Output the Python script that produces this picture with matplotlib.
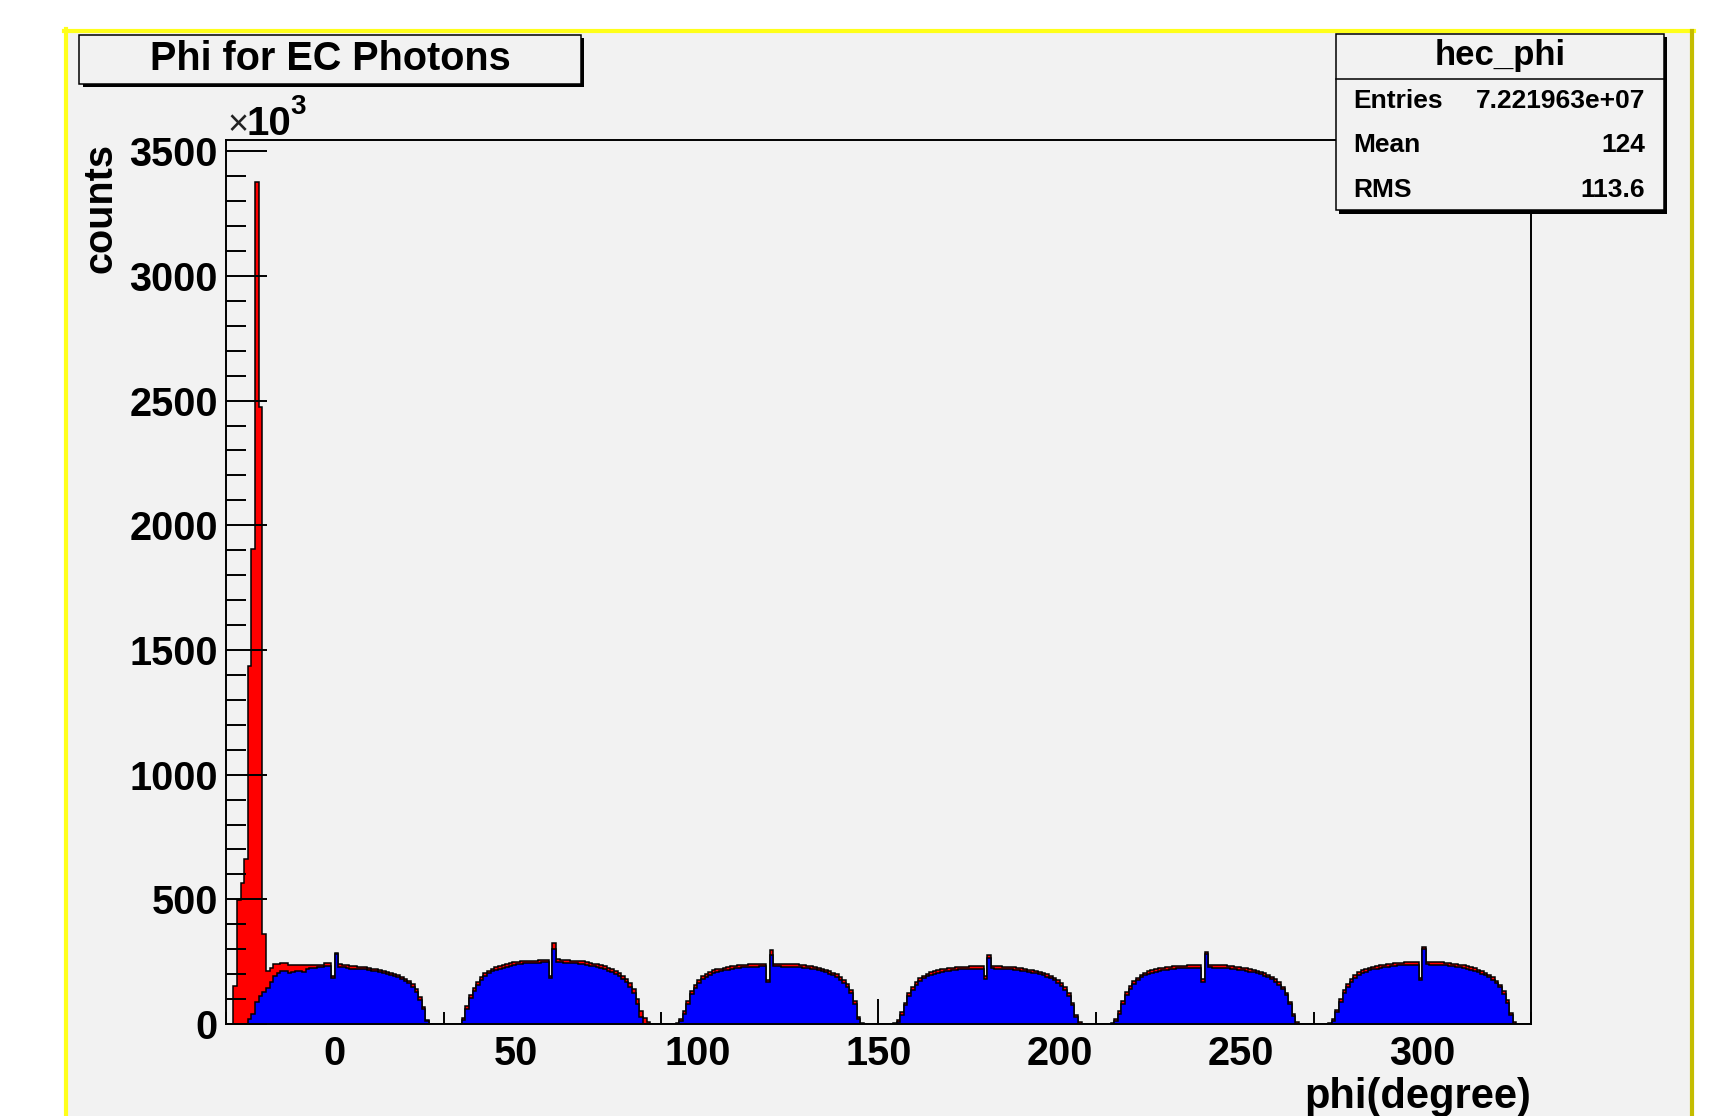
import numpy as np
import matplotlib
matplotlib.use("Agg")
import matplotlib.pyplot as plt
from matplotlib.patches import Rectangle
from matplotlib.lines import Line2D
from matplotlib.ticker import MultipleLocator, FixedLocator

plt.rcParams["font.family"] = ["Liberation Sans", "DejaVu Sans"]
plt.rcParams["font.weight"] = "bold"

# 1-degree bins from -30 to 330, counts in units of 10^3
PHI_LO, PHI_HI = -30, 330

# all EC photons (red)
RED = [
    0, 0, 152, 499, 566, 660, 1437, 1903, 3375, 2473,        # -30
    359, 212, 225, 240, 240, 244, 244, 238, 238, 238,        # -20
    238, 238, 238, 238, 238, 237, 238, 243, 243, 192,        # -10
    286, 239, 238, 236, 233, 231, 230, 229, 228, 225,        # 0
    221, 219, 217, 213, 210, 206, 201, 197, 189, 180,        # 10
    173, 160, 139, 109, 69, 18, 0, 0, 0, 0,                  # 20
    0, 0, 0, 0, 0, 25, 72, 118, 145, 169,                    # 30
    189, 203, 213, 222, 228, 233, 237, 241, 244, 247,        # 40
    250, 252, 253, 254, 253, 254, 255, 256, 257, 193,        # 50
    324, 259, 258, 256, 255, 254, 253, 252, 251, 248,        # 60
    245, 242, 239, 235, 231, 225, 219, 211, 204, 193,        # 70
    181, 163, 139, 100, 52, 24, 8, 0, 0, 0,                  # 80
    0, 0, 0, 0, 6, 22, 52, 93, 131, 157,                     # 90
    176, 191, 201, 209, 215, 219, 222, 225, 228, 231,        # 100
    234, 236, 237, 238, 239, 239, 240, 241, 240, 178,        # 110
    297, 241, 241, 240, 240, 239, 239, 239, 238, 236,        # 120
    234, 232, 229, 226, 222, 218, 212, 206, 199, 189,        # 130
    177, 161, 137, 92, 30, 6, 0, 0, 0, 0,                    # 140
    0, 0, 0, 0, 4, 18, 48, 86, 123, 149,                     # 150
    169, 183, 193, 201, 207, 212, 216, 219, 222, 224,        # 160
    226, 227, 229, 230, 230, 231, 232, 232, 231, 191,        # 170
    275, 232, 231, 231, 230, 230, 229, 227, 225, 224,        # 180
    221, 218, 216, 213, 209, 205, 200, 194, 186, 176,        # 190
    164, 147, 123, 86, 38, 8, 0, 0, 0, 0,                    # 200
    0, 0, 0, 0, 4, 20, 52, 91, 127, 153,                     # 210
    172, 186, 197, 205, 211, 216, 220, 223, 226, 228,        # 220
    230, 232, 233, 234, 234, 235, 235, 236, 236, 179,        # 230
    289, 237, 236, 236, 235, 235, 234, 232, 230, 228,        # 240
    226, 223, 220, 217, 213, 209, 204, 198, 190, 180,        # 250
    167, 150, 126, 90, 40, 8, 0, 0, 0, 0,                    # 260
    0, 0, 0, 0, 4, 22, 58, 99, 135, 161,                     # 270
    181, 196, 207, 215, 221, 226, 230, 233, 236, 238,        # 280
    240, 242, 244, 245, 246, 247, 247, 248, 248, 186,        # 290
    309, 249, 248, 248, 247, 247, 246, 244, 242, 240,        # 300
    238, 235, 231, 227, 223, 218, 212, 205, 197, 187,        # 310
    174, 157, 133, 96, 44, 10, 0, 0, 0, 0,                   # 320
]

# photons inside the sector acceptance (blue)
BLUE = [
    0, 0, 0, 0, 0, 0, 20, 42, 90, 112,                       # -30
    128, 146, 170, 192, 204, 212, 214, 206, 210, 211,        # -20
    212, 210, 222, 226, 226, 227, 228, 232, 234, 185,        # -10
    279, 230, 229, 224, 222, 222, 221, 220, 219, 215,        # 0
    212, 211, 207, 205, 201, 198, 193, 188, 180, 172,        # 10
    163, 150, 128, 98, 60, 12, 0, 0, 0, 0,                   # 20
    0, 0, 0, 0, 0, 15, 60, 105, 132, 158,                    # 30
    178, 192, 203, 212, 217, 222, 226, 230, 234, 237,        # 40
    240, 242, 243, 244, 244, 244, 245, 247, 248, 184,        # 50
    300, 249, 248, 246, 244, 244, 243, 242, 241, 238,        # 60
    234, 231, 228, 224, 219, 214, 208, 200, 193, 182,        # 70
    170, 150, 124, 80, 28, 0, 0, 0, 0, 0,                    # 80
    0, 0, 0, 0, 0, 12, 40, 80, 120, 146,                     # 90
    165, 180, 190, 198, 204, 208, 212, 215, 218, 221,        # 100
    224, 226, 227, 228, 229, 230, 230, 231, 231, 168,        # 110
    275, 232, 231, 230, 230, 230, 230, 229, 228, 226,        # 120
    224, 222, 219, 216, 212, 208, 202, 196, 188, 178,        # 130
    166, 150, 125, 80, 20, 0, 0, 0, 0, 0,                    # 140
    0, 0, 0, 0, 0, 10, 38, 75, 112, 138,                     # 150
    158, 172, 183, 191, 197, 202, 206, 209, 212, 214,        # 160
    216, 218, 219, 220, 221, 221, 222, 222, 220, 180,        # 170
    266, 223, 222, 221, 221, 220, 219, 218, 216, 214,        # 180
    212, 209, 206, 203, 199, 195, 190, 184, 176, 166,        # 190
    153, 136, 112, 76, 30, 0, 0, 0, 0, 0,                    # 200
    0, 0, 0, 0, 0, 12, 42, 80, 116, 142,                     # 210
    162, 176, 187, 195, 201, 206, 210, 213, 216, 218,        # 220
    220, 222, 223, 224, 224, 225, 225, 226, 226, 168,        # 230
    280, 227, 226, 226, 225, 225, 224, 222, 220, 218,        # 240
    216, 213, 210, 207, 203, 199, 194, 188, 180, 170,        # 250
    157, 140, 116, 80, 32, 0, 0, 0, 0, 0,                    # 260
    0, 0, 0, 0, 0, 14, 48, 88, 124, 150,                     # 270
    170, 185, 196, 204, 210, 215, 219, 222, 225, 228,        # 280
    230, 232, 234, 235, 236, 237, 237, 238, 238, 175,        # 290
    300, 239, 238, 238, 237, 237, 236, 234, 232, 230,        # 300
    228, 225, 221, 217, 213, 208, 202, 195, 187, 177,        # 310
    164, 147, 122, 86, 36, 0, 0, 0, 0, 0,                    # 320
]

X_TICKS = [0, 50, 100, 150, 200, 250, 300]
Y_TICKS = [0, 500, 1000, 1500, 2000, 2500, 3000, 3500]
STATS = [("Entries", "7.221963e+07"), ("Mean", "124"), ("RMS", "113.6")]

W, H = 1731, 1116
BG = "#f2f2f2"


def fx(px):
    return px / W


def fy(py):
    return 1 - py / H


fig = plt.figure(figsize=(W / 100, H / 100), dpi=100, facecolor="white")

# canvas fill and highlighted border
fig.patches.append(Rectangle((fx(66), fy(1120)), fx(1692) - fx(66), fy(31) - fy(1120),
                             transform=fig.transFigure, facecolor=BG, edgecolor="none", zorder=-3))
fig.lines.append(Line2D([fx(64), fx(1694)], [fy(31), fy(31)], transform=fig.transFigure,
                        color="#ffff1a", lw=3.0, zorder=-2))
fig.lines.append(Line2D([fx(66), fx(66)], [fy(29), fy(1120)], transform=fig.transFigure,
                        color="#ffff1a", lw=3.0, zorder=-2))
fig.lines.append(Line2D([fx(1692), fx(1692)], [fy(31), fy(1120)], transform=fig.transFigure,
                        color="#c4bc00", lw=3.0, zorder=-2))

ax = fig.add_axes([fx(226), fy(1024), fx(1531) - fx(226), fy(140) - fy(1024)])
ax.set_facecolor(BG)

edges = np.arange(PHI_LO, PHI_HI + 1)
ax.stairs(RED, edges, fill=True, color="#ff0000", lw=0, zorder=1.0)
ax.stairs(RED, edges, color="black", lw=1.1, zorder=1.1)
ax.stairs(BLUE, edges, fill=True, color="#0000ff", lw=0, zorder=1.2)
ax.stairs(BLUE, edges, color="black", lw=1.1, zorder=1.3)

ax.set_xlim(PHI_LO, PHI_HI)
ax.set_ylim(0, 3545)
ax.xaxis.set_major_locator(FixedLocator(X_TICKS))
ax.xaxis.set_minor_locator(MultipleLocator(10))
ax.yaxis.set_major_locator(FixedLocator(Y_TICKS))
ax.yaxis.set_minor_locator(MultipleLocator(100))
ax.set_xticklabels([str(t) for t in X_TICKS])
ax.set_yticklabels([str(t) for t in Y_TICKS])

ax.tick_params(axis="y", which="major", direction="in", length=29.5, width=1.4,
               labelsize=28.5, pad=6)
ax.tick_params(axis="y", which="minor", direction="in", length=14.4, width=1.4)
ax.tick_params(axis="x", which="major", direction="in", length=18, width=1.4,
               labelsize=28.5, pad=8)
ax.tick_params(axis="x", which="minor", direction="in", length=9, width=1.4)
for s in ax.spines.values():
    s.set_linewidth(1.4)
    s.set_color("black")
# x ticks sit under the filled histograms, y ticks on top of them
ax.xaxis.set_zorder(0.5)
ax.yaxis.set_zorder(3)

# axis titles and exponent
fig.text(fx(1531), fy(1108), "phi(degree)", ha="right", va="baseline", fontsize=30)
fig.text(fx(101), fy(143), "counts", rotation=90, ha="center", va="top", fontsize=28.5)
fig.text(fx(227), fy(135), "\u00d7", ha="left", va="baseline", fontsize=26,
         fontweight="normal", color="#222222")
fig.text(fx(247), fy(135), "10", ha="left", va="baseline", fontsize=29)
fig.text(fx(290), fy(114), "3", ha="left", va="baseline", fontsize=20)

# title box with shadow
fig.patches.append(Rectangle((fx(83), fy(87)), fx(584) - fx(83), fy(38) - fy(87),
                             transform=fig.transFigure, facecolor="black", edgecolor="none", zorder=2))
fig.patches.append(Rectangle((fx(79.5), fy(83.5)), fx(581) - fx(79.5), fy(34.5) - fy(83.5),
                             transform=fig.transFigure, facecolor=BG, edgecolor="black",
                             lw=1.1, zorder=2.1))
fig.text(fx(330), fy(59), "Phi for EC Photons", ha="center", va="center", fontsize=28.5, zorder=3)

# statistics box
fig.patches.append(Rectangle((fx(1339.5), fy(213.5)), fx(1667.5) - fx(1339.5), fy(37.5) - fy(213.5),
                             transform=fig.transFigure, facecolor="black", edgecolor="none", zorder=2))
fig.patches.append(Rectangle((fx(1336), fy(210)), fx(1664) - fx(1336), fy(34.3) - fy(210),
                             transform=fig.transFigure, facecolor=BG, edgecolor="black",
                             lw=1.1, zorder=2.1))
fig.lines.append(Line2D([fx(1336), fx(1664)], [fy(79.3), fy(79.3)], transform=fig.transFigure,
                        color="black", lw=1.1, zorder=2.2))
fig.text(fx(1500), fy(56), "hec_phi", ha="center", va="center", fontsize=25, zorder=3)
for i, (name, val) in enumerate(STATS):
    yb = 108 + i * 44.5
    fig.text(fx(1353), fy(yb), name, ha="left", va="baseline", fontsize=19, zorder=3)
    fig.text(fx(1645), fy(yb), val, ha="right", va="baseline", fontsize=19, zorder=3)

fig.savefig("out.png", dpi=100, facecolor="white")
